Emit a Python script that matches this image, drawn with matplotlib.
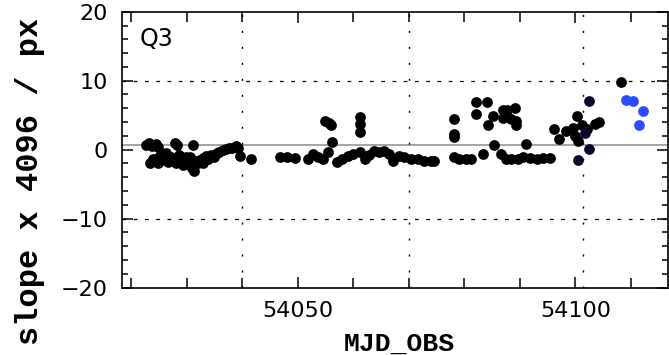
import matplotlib
matplotlib.use("Agg")
import matplotlib.pyplot as plt
from matplotlib.ticker import MultipleLocator, FixedLocator

# black points (MJD, slope)
black_mjd = [
    54022.6, 54023.2, 54023.8, 54024.4, 54024.9, 54023.3, 54024.0, 54024.8,
    54025.3, 54025.8, 54026.3, 54026.7, 54027.2, 54027.7, 54028.2, 54028.6,
    54029.0, 54029.4, 54029.8, 54030.3, 54030.8, 54031.1, 54031.3, 54031.6,
    54032.0, 54032.4, 54032.9, 54033.4, 54033.9, 54034.4, 54034.9, 54035.4,
    54035.9, 54036.5, 54037.0, 54037.6, 54038.2, 54038.8, 54039.2, 54039.6,
    54041.5, 54025.0, 54026.0, 54028.0, 54030.5, 54031.0, 54033.0, 54027.9,
    54046.8, 54048.0, 54049.5, 54051.9, 54052.8, 54053.7, 54054.6, 54054.9,
    54055.6, 54055.9, 54056.1, 54055.5, 54057.0, 54057.9, 54059.1, 54060.0,
    54061.2, 54061.2, 54061.2, 54061.2, 54062.1, 54062.9, 54063.8, 54064.6,
    54065.6, 54066.5, 54067.1, 54068.3, 54069.2, 54070.4, 54071.6, 54072.8,
    54074.0, 54074.6,
    54078.2, 54079.1, 54080.3, 54081.2, 54078.1, 54078.1, 54078.1,
    54082.1, 54082.1, 54084.0, 54085.1, 54084.2, 54083.3, 54085.4, 54086.6,
    54087.4, 54088.4,
    54087.0, 54087.0, 54087.7, 54088.4, 54089.1, 54089.3, 54089.3,
    54089.6, 54090.5, 54091.1, 54091.8, 54093.0, 54094.2, 54095.5, 54096.2,
    54097.1, 54098.3, 54099.5, 54100.2, 54100.4, 54100.0, 54101.2, 54102.0,
    54103.6, 54104.3,
    54108.2,
]
black_slope = [
    0.7, 0.9, 0.5, 0.8, 0.4, -2.0, -1.3, -1.9,
    -0.6, -1.2, -0.5, -1.8, -1.0, -1.5, 0.6, -0.8,
    -1.4, -2.2, -1.0, -1.7, -2.3, 0.6, -3.1, -1.6,
    -2.0, -1.5, -1.2, -0.9, -1.3, -0.8, -1.0, -0.5,
    -0.3, -0.1, 0.1, 0.2, 0.3, 0.5, 0.3, -0.9,
    -1.4, -1.0, -1.5, -1.9, -1.0, -2.6, -2.0, 0.9,
    -1.1, -1.1, -1.2, -1.35, -0.6, -1.1, -1.3, 4.2,
    3.9, 3.6, 1.1, -0.4, -1.8, -1.35, -0.9, -0.6,
    4.7, 3.7, 2.5, -0.4, -1.35, -0.8, -0.2, -0.3,
    -0.15, -0.6, -1.6, -0.9, -1.1, -1.35, -1.35, -1.6,
    -1.6, -1.7,
    -1.1, -1.35, -1.35, -1.4, 4.4, 2.3, 1.9,
    6.9, 5.2, 6.9, 4.9, 3.5, -0.6, 0.6, -0.6,
    -1.35, -1.35,
    5.7, 4.6, 5.8, 4.4, 6.1, 4.2, 3.5,
    -1.3, -1.1, 0.8, -1.2, -1.3, -1.2, -1.2, 3.0,
    1.6, 2.75, 3.2, 4.9, 1.3, 2.0, 3.6, 3.0,
    3.7, 4.0,
    9.85,
]

# very dark navy points
navy_mjd = [54100.4, 54102.4, 54102.4, 54101.8]
navy_slope = [-1.5, 7.1, 0.1, 2.4]

# blue points
blue_mjd = [54109.1, 54110.3, 54112.1, 54111.5]
blue_slope = [7.2, 7.0, 5.65, 3.6]

median_slope = 0.65
grid_mjd = [54040, 54070, 54101.3]
grid_slope = [-10, 10]

fig = plt.figure(figsize=(6.69, 3.55), dpi=100)
ax = fig.add_axes([0.182, 0.19, 0.816, 0.777])

ax.axhline(median_slope, color="#8c8c8c", lw=1.1, zorder=1)
for g in grid_slope:
    ax.axhline(g, color="black", lw=0.9, ls=(0, (3, 6)), zorder=1)
for g in grid_mjd:
    ax.axvline(g, color="black", lw=1.0, ls=(0, (1.5, 10)), zorder=1)

ax.scatter(black_mjd, black_slope, s=60, color="black", lw=0, zorder=3)
ax.scatter(navy_mjd, navy_slope, s=60, color="#07072c", lw=0, zorder=3)
ax.scatter(blue_mjd, blue_slope, s=60, color="#2a4dff", lw=0, zorder=3)

ax.set_xlim(54018.3, 54116.6)
ax.set_ylim(-20, 20)

ax.xaxis.set_major_locator(FixedLocator([54050, 54100]))
ax.xaxis.set_minor_locator(MultipleLocator(10))
ax.yaxis.set_major_locator(MultipleLocator(10))
ax.yaxis.set_minor_locator(MultipleLocator(2))
ax.tick_params(which="both", direction="in", top=True, right=True, width=1.1)
ax.tick_params(which="major", length=8, pad=10, labelsize=16)
ax.tick_params(axis="x", which="minor", length=7)
ax.tick_params(axis="y", which="minor", length=4.5)
for lab in ax.get_xticklabels() + ax.get_yticklabels():
    lab.set_fontfamily("DejaVu Sans")
for sp in ax.spines.values():
    sp.set_linewidth(1.2)

ax.text(0.033, 0.945, "Q3", transform=ax.transAxes, fontsize=17,
        family="DejaVu Sans", va="top", ha="left")

fig.text(0.597, 0.012, "MJD_OBS", family="Liberation Mono", weight="bold",
         fontsize=19, ha="center", va="baseline")
fig.text(0.045, 0.49, "slope x 4096 / px", family="Liberation Mono",
         weight="bold", fontsize=23, rotation=90, ha="center", va="center")

fig.savefig("out.png", dpi=100)
